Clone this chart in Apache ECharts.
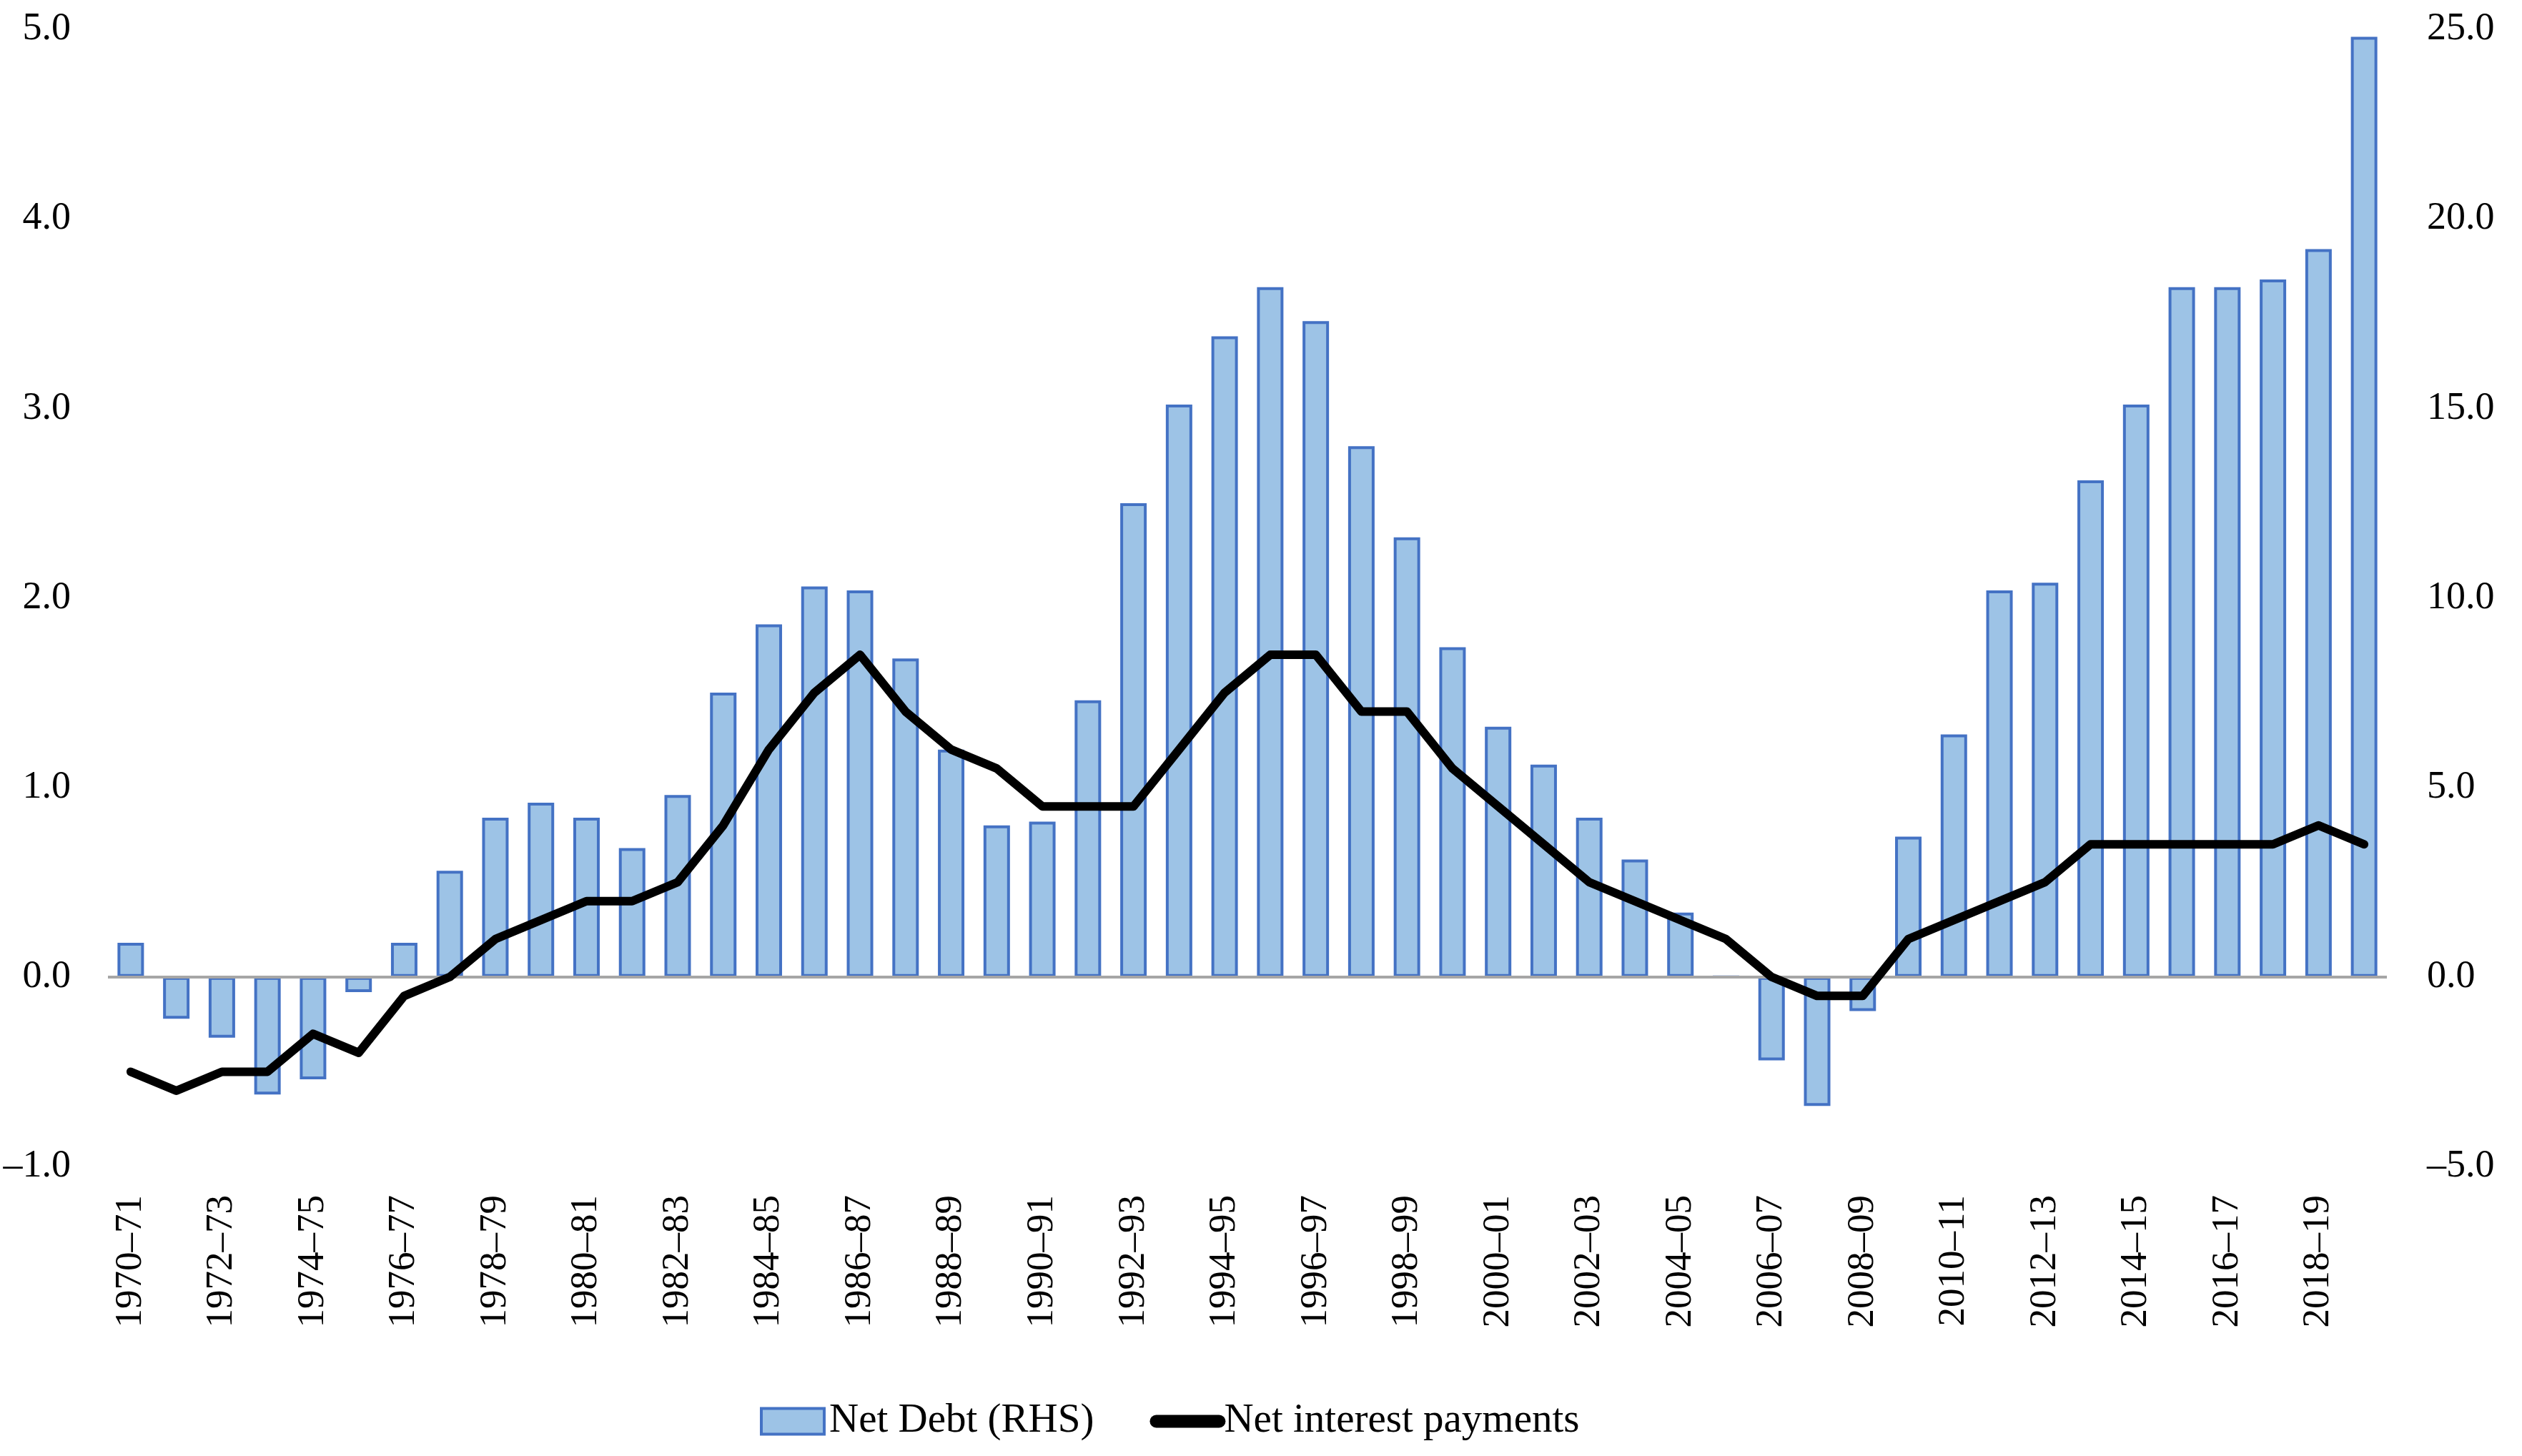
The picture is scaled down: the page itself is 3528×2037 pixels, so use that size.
<!DOCTYPE html>
<html>
<head>
<meta charset="utf-8">
<script src="https://cdn.jsdelivr.net/npm/echarts@6/dist/echarts.min.js"></script>
<style>
  html, body { margin: 0; padding: 0; background: #ffffff; }
  #chart { width: 3528px; height: 2037px; }
</style>
</head>
<body>
<div id="chart"></div>
<script>
const categories = [
  '1970–71','1971–72','1972–73','1973–74','1974–75','1975–76','1976–77','1977–78','1978–79','1979–80',
  '1980–81','1981–82','1982–83','1983–84','1984–85','1985–86','1986–87','1987–88','1988–89','1989–90',
  '1990–91','1991–92','1992–93','1993–94','1994–95','1995–96','1996–97','1997–98','1998–99','1999–00',
  '2000–01','2001–02','2002–03','2003–04','2004–05','2005–06','2006–07','2007–08','2008–09','2009–10',
  '2010–11','2011–12','2012–13','2013–14','2014–15','2015–16','2016–17','2017–18','2018–19','2019–20'
];

// Net Debt (RHS), right axis
const netDebt = [
  0.9, -1.1, -1.6, -3.1, -2.7, -0.4, 0.9, 2.8, 4.2, 4.6,
  4.2, 3.4, 4.8, 7.5, 9.3, 10.3, 10.2, 8.4, 6.0, 4.0,
  4.1, 7.3, 12.5, 15.1, 16.9, 18.2, 17.3, 14.0, 11.6, 8.7,
  6.6, 5.6, 4.2, 3.1, 1.7, 0.0, -2.2, -3.4, -0.9, 3.7,
  6.4, 10.2, 10.4, 13.1, 15.1, 18.2, 18.2, 18.4, 19.2, 24.8
];

// Net interest payments, left axis
const netInterest = [
  -0.5, -0.6, -0.5, -0.5, -0.3, -0.4, -0.1, 0.0, 0.2, 0.3,
  0.4, 0.4, 0.5, 0.8, 1.2, 1.5, 1.7, 1.4, 1.2, 1.1,
  0.9, 0.9, 0.9, 1.2, 1.5, 1.7, 1.7, 1.4, 1.4, 1.1,
  0.9, 0.7, 0.5, 0.4, 0.3, 0.2, 0.0, -0.1, -0.1, 0.2,
  0.3, 0.4, 0.5, 0.7, 0.7, 0.7, 0.7, 0.7, 0.8, 0.7
];

const seriesNames = ['Net Debt (RHS)', 'Net interest payments'];

const FONT = '"Liberation Serif", "Times New Roman", serif';
const fmt = v => v.toFixed(1).replace('-', '–');

const chart = echarts.init(document.getElementById('chart'), null, { renderer: 'canvas' });

chart.setOption({
  backgroundColor: '#ffffff',
  animation: false,
  textStyle: { fontFamily: FONT, color: '#000' },
  grid: { left: 151, right: 189, top: 41, bottom: 405, containLabel: false },
  legend: {
    left: 1058,
    top: 1955,
    itemWidth: 88,
    itemHeight: 36,
    itemGap: 78,
    textStyle: { fontFamily: FONT, fontSize: 57, color: '#000', padding: [0, 0, 0, 2] },
    data: [
      { name: seriesNames[0], icon: 'rect',
        itemStyle: { color: '#9DC3E6', borderColor: '#4472C4', borderWidth: 4 } },
      { name: seriesNames[1],
        itemStyle: { opacity: 0 },
        lineStyle: { color: '#000', width: 18, cap: 'round' } }
    ]
  },
  xAxis: {
    type: 'category',
    data: categories,
    boundaryGap: true,
    axisLine: { show: false },
    axisTick: { show: false },
    splitLine: { show: false },
    axisLabel: {
      interval: 1,
      rotate: 90,
      margin: 40,
      fontFamily: FONT,
      fontSize: 53,
      color: '#000'
    }
  },
  yAxis: [
    {
      type: 'value',
      min: -1, max: 5, interval: 1,
      position: 'left',
      axisLine: { show: false },
      axisTick: { show: false },
      splitLine: { show: false },
      axisLabel: { formatter: fmt, fontFamily: FONT, fontSize: 54, color: '#000', margin: 52 }
    },
    {
      type: 'value',
      min: -5, max: 25, interval: 5,
      position: 'right',
      axisLine: { show: false },
      axisTick: { show: false },
      splitLine: { show: false },
      axisLabel: { formatter: fmt, fontFamily: FONT, fontSize: 54, color: '#000', margin: 56 }
    }
  ],
  series: [
    {
      name: seriesNames[0],
      type: 'bar',
      yAxisIndex: 1,
      data: netDebt,
      barWidth: 37,
      itemStyle: { color: '#9DC3E6', borderColor: '#4472C4', borderWidth: 4 },
      markLine: {
        silent: true,
        symbol: ['none', 'none'],
        label: { show: false },
        lineStyle: { color: '#A6A6A6', width: 4, type: 'solid' },
        data: [{ yAxis: 0 }],
        z: 5
      }
    },
    {
      name: seriesNames[1],
      type: 'line',
      yAxisIndex: 0,
      data: netInterest,
      symbol: 'none',
      showSymbol: false,
      lineStyle: { color: '#000', width: 12, join: 'round', cap: 'round' },
      itemStyle: { color: '#000' },
      z: 10
    }
  ]
});
</script>
</body>
</html>
